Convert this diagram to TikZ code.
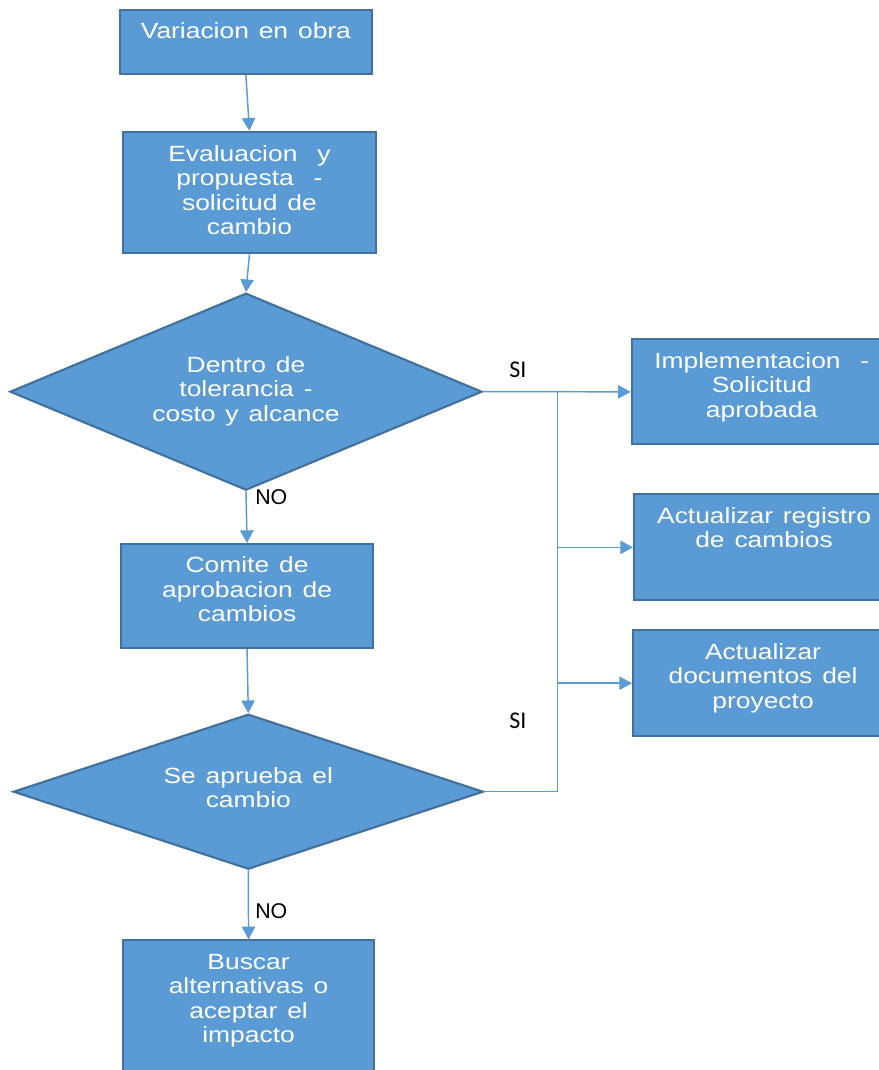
\documentclass[tikz,border=0pt]{standalone}
\usepackage{fontspec}
\setmainfont{Liberation Sans}
\newfontfamily\boxfont[FakeStretch=1.2,WordSpace=1.35]{Liberation Sans}
\newfontfamily\tagfont{Carlito}
\usetikzlibrary{arrows.meta,shapes.geometric}
\newlength\pu
\setlength\pu{0.75pt}
\definecolor{boxfill}{HTML}{5B9BD5}
\definecolor{boxline}{HTML}{41719C}
\definecolor{wire}{HTML}{5B9BD5}
% first line of every label gets the same height, so the text sits at a fixed depth
\newcommand\firstln{\rule{0pt}{13pt}}

\begin{document}
\begin{tikzpicture}[x=0.75pt,y=-0.75pt,
  stepbox/.style={draw=boxline, fill=boxfill, line width=1.6pt, rectangle,
    inner sep=0pt, anchor=north west},
  decision/.style={draw=boxline, fill=boxfill, line width=1.6pt, diamond,
    inner sep=0pt},
  boxtext/.style={anchor=north, inner sep=0pt, align=center, text=white,
    font=\boxfont\fontsize{16.5}{18.4}\selectfont},
  flow/.style={draw=wire, line width=1.1pt, -{Triangle[length=9.5pt,width=10pt]}},
  link/.style={draw=wire, line width=1.1pt},
  tag/.style={anchor=base west, inner sep=0pt, text=black}]

\fill[white] (0,0) rectangle (878,1070);
\useasboundingbox (0,0) rectangle (878,1070);

% process boxes
\node[stepbox, minimum width=252.3\pu, minimum height=64\pu]    (b1) at (118.7,8.7) {};
\node[stepbox, minimum width=253.3\pu, minimum height=121.6\pu] (b2) at (121.7,130.7) {};
\node[stepbox, minimum width=252\pu,   minimum height=104\pu]   (b3) at (120,543) {};
\node[stepbox, minimum width=260\pu,   minimum height=105\pu]   (b4) at (630.7,338.3) {};
\node[stepbox, minimum width=260\pu,   minimum height=106\pu]   (b5) at (633,493.3) {};
\node[stepbox, minimum width=251.6\pu, minimum height=140\pu]   (b6) at (121.7,939.3) {};
\node[stepbox, minimum width=260\pu,   minimum height=105.7\pu] (b7) at (632,629.3) {};

% decisions
\node[decision, minimum width=472\pu, minimum height=197\pu] (d1) at (246,391.7) {};
\node[decision, minimum width=470\pu, minimum height=155\pu] (d2) at (248.3,791.7) {};

% texts
\node[boxtext] (t1) at ([yshift=-12.2\pu]b1.north) {\firstln Variacion en obra};
\node[boxtext] (t2) at ([yshift=-12.7\pu]b2.north) {\firstln Evaluacion \ y\\propuesta \ -\\solicitud de\\cambio};
\node[boxtext] (t3) at ([yshift=-12.2\pu]b3.north) {\firstln Comite de\\aprobacion de\\cambios};
\node[boxtext] (t4) at ([yshift=-12.2\pu]b4.north) {\firstln Implementacion \ -\\Solicitud\\aprobada};
\node[boxtext] (t5) at ([yshift=-12.2\pu]b5.north) {\firstln Actualizar registro\\de cambios};
\node[boxtext] (t6) at ([yshift=-12.2\pu]b6.north) {\firstln Buscar\\alternativas o\\aceptar el\\impacto};
\node[boxtext] (t7) at ([yshift=-12.2\pu]b7.north) {\firstln Actualizar\\documentos del\\proyecto};
\node[boxtext] (t8) at ([yshift=37.3\pu]d1.center) {\firstln Dentro de\\tolerancia -\\costo y alcance};
\node[boxtext] (t9) at ([yshift=26.3\pu]d2.center) {\firstln Se aprueba el\\cambio};

% connectors
\coordinate (j1) at (557.7,391.7);
\coordinate (j2) at (557.7,791.7);
\draw[flow] (b1.south) -- (b2.north);
\draw[flow] (b2.south) -- (d1.north);
\draw[flow] (d1.south) -- (b3.north);
\draw[flow] (b3.south) -- (d2.north);
\draw[flow] (d2.south) -- (b6.north);
\draw[flow] (d1.east) -- (j1) -- (b4.west);
\draw[link] (d2.east) -- (j2) -- (j1);
\draw[flow] (j1 |- b5.west) -- (b5.west);
\draw[flow] (j1 |- b7.west) -- (b7.west);

% branch labels
\node[tag, font=\tagfont\fontsize{18}{20}\selectfont] (si1) at (509,377) {SI};
\node[tag, font=\tagfont\fontsize{18}{20}\selectfont] (si2) at (509,728.3) {SI};
\node[tag, font=\fontsize{16}{18}\selectfont] (no1) at (255,504) {NO};
\node[tag, font=\fontsize{16}{18}\selectfont] (no2) at (255,918) {NO};
\end{tikzpicture}
\end{document}
